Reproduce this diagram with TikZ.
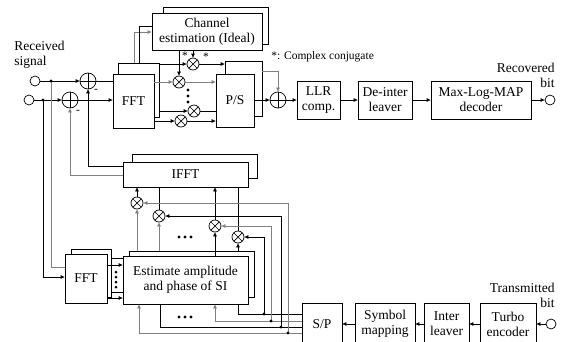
\documentclass[tikz,border=0pt]{standalone}
\usepackage{fontspec}
\setmainfont{Liberation Serif}
\usetikzlibrary{arrows.meta}

\begin{document}
\begin{tikzpicture}[x=1pt,y=-1pt,line width=0.7pt,>={Triangle[length=4pt,width=3.4pt]},
  every node/.style={font=\fontsize{13.5}{15}\selectfont,inner sep=0pt},
  blk/.style={draw,fill=white,align=center},
  adder/.style={circle,draw,fill=white,minimum size=16pt,path picture={\draw (path picture bounding box.north)--(path picture bounding box.south) (path picture bounding box.west)--(path picture bounding box.east);}},
  mixer/.style={circle,draw,fill=white,minimum size=12pt,path picture={\draw (path picture bounding box.north west)--(path picture bounding box.south east) (path picture bounding box.north east)--(path picture bounding box.south west);}},
  port/.style={circle,draw,fill=white,minimum size=10pt},
  small/.style={font=\fontsize{11.5}{13}\selectfont}]
\useasboundingbox (0,0) rectangle (570,341);
\clip (0,0) rectangle (570,341);

\node[blk,minimum width=105pt,minimum height=37pt] (chestb) at (215.5,25.5) {};
\node[blk,minimum width=110pt,minimum height=37pt] (chest) at (207,31.5) {Channel\\estimation (Ideal)};
\node[blk,minimum width=41pt,minimum height=54pt] (fftAb) at (138.5,90) {};
\node[blk,minimum width=41pt,minimum height=54pt] (fftA) at (133.5,101) {FFT};
\node[blk,minimum width=37pt,minimum height=55pt] (psb) at (243.5,89) {};
\node[blk,minimum width=38pt,minimum height=53pt] (ps) at (235,100.5) {P/S};
\node[blk,minimum width=43pt,minimum height=38pt] (llr) at (318.5,100) {LLR\\comp.};
\node[blk,minimum width=54pt,minimum height=38pt] (deint) at (385,100) {De-inter\\leaver};
\node[blk,minimum width=100pt,minimum height=38pt] (dec) at (481,100) {Max-Log-MAP\\decoder};
\node[blk,minimum width=125pt,minimum height=24pt] (ifftb) at (194.5,166) {};
\node[blk,minimum width=125pt,minimum height=25pt] (ifft) at (185.5,174.5) {IFFT};
\node[blk,minimum width=40pt,minimum height=48pt] (fftBb) at (91,273) {};
\node[blk,minimum width=42pt,minimum height=49pt] (fftB) at (86,278.5) {FFT};
\node[blk,minimum width=125pt,minimum height=46pt] (estb) at (191.5,274) {};
\node[blk,minimum width=125pt,minimum height=48pt] (est) at (185.5,280) {Estimate amplitude\\and phase of SI};
\node[blk,minimum width=40pt,minimum height=42pt] (sp) at (322,324) {S/P};
\node[blk,minimum width=60pt,minimum height=42pt] (sym) at (385,324) {Symbol\\mapping};
\node[blk,minimum width=45pt,minimum height=42pt] (inter) at (446.5,324) {Inter\\leaver};
\node[blk,minimum width=56pt,minimum height=42pt] (turbo) at (508,324) {Turbo\\encoder};

\node[port] (in1) at (35,81) {};
\node[port] (in2) at (29,100) {};
\node[port] (out) at (550,100) {};
\node[port] (tx) at (551,324) {};
\node[adder] (add1) at (88,81) {};
\node[adder] (add2) at (70,100) {};
\node[adder] (add3) at (278,100) {};
\node[mixer] (mA) at (193,64) {};
\node[mixer] (mB) at (179,82) {};
\node[mixer] (mC) at (194,111) {};
\node[mixer] (mD) at (181,121) {};
\node[mixer] (mE) at (137,203) {};
\node[mixer] (mF) at (159,216) {};
\node[mixer] (mG) at (215,226) {};
\node[mixer] (mH) at (238,237) {};

\node[align=left,anchor=west] (rxlab) at (14,55) {Received\\signal};
\node[align=right,anchor=east] (outlab) at (555,75) {Recovered\\bit};
\node[align=right,anchor=east] (txlab) at (555,295) {Transmitted\\bit};
\node[small,anchor=west] (cclab) at (271,57) {*: Complex conjugate};
\node[small] (st1) at (185,56) {*};
\node[small] (st2) at (206,57) {*};
\node[small] (neg1) at (96,91) {-};
\node[small] (neg2) at (78,112) {-};

\coordinate (jA) at (51,81);
\coordinate (jB) at (43,100);
\draw[->] (in1) -- (add1);
\draw[->] (in2) -- (add2);
\draw[gray] (jA) |- (fftB.west |- 0,267);
\draw[->] (jB) |- (fftB.west |- 0,277);
\fill (jA) circle (1.7);
\fill (jB) circle (1.7);
\draw (add1) -- (fftA.west |- add1);
\draw[->] (add2) -- (fftA.west |- add2);
\draw[->] (ifft.west |- 0,166) -| (add1);
\draw[->,gray] (ifft.west |- 0,175) -| (add2);

\draw[->,gray] (fftAb.north -| 134,0) |- (chest.west |- 0,32);
\draw (fftAb.north -| 139,0) |- (chest.west |- 0,26);
\draw[->] (chest.south -| mB) -- (mB);
\draw[->] (chest.south -| mA) -- (mA);
\draw[->] (fftAb.east |- mA) -- (mA);
\draw[->,gray] (fftA.east |- mB) -- (mB);
\draw[->] (fftAb.east |- mC) -- (mC);
\draw[->] (fftA.east |- mD) -- (mD);
\draw[->] (mA) -- (psb.west |- mA);
\draw[->,gray] (mB) -- (ps.west |- mB);
\draw (mC) -- (ps.west |- mC);
\draw[->] (mD) -- (ps.west |- mD);
\foreach \y in {90,96,102}
  \fill (188,\y) circle (1.6);

\draw[->,gray] (psb.east |- 0,71) -| (add3);
\draw[->] (ps.east |- add3) -- (add3);
\draw[->] (add3) -- (llr);
\draw[->] (llr) -- (deint);
\draw[->] (deint) -- (dec);
\draw[->] (dec) -- (out);

\draw (fftBb.east |- 0,258) -- (est.west |- 0,258);
\draw[->] (fftB.east |- 0,265) -- (est.west |- 0,265);
\draw (fftBb.east |- 0,292) -- (est.west |- 0,292);
\draw[->] (fftB.east |- 0,298) -- (est.west |- 0,298);
\foreach \y in {272,277,282,287}
  \fill (116,\y) circle (1.5);

\draw[->,gray] (estb.north -| mE) -- (mE);
\draw[->,gray] (estb.north -| mF) -- (mF);
\draw[->] (est.north -| mG) -- (mG);
\draw[->] (estb.north -| mH) -- (mH);
\draw[->] (mE) -- (ifft.south -| mE);
\draw (mF) -- (ifft.south -| mF);
\draw[->] (mG) -- (ifft.south -| mG);
\draw (mH) -- (ifft.south -| mH);
\foreach \x in {179,185,191} {
  \fill (\x,237) circle (1.6);
  \fill (\x,317) circle (1.6);
}

\coordinate (sA) at (264,314);
\coordinate (sB) at (271,321);
\coordinate (sC) at (281,327);
\coordinate (sD) at (288,333);
\draw (sp.west |- sA) -| (est.south -| 238,0);
\draw[->,gray] (sp.west |- sB) -| (est.south -| 215,0);
\draw (sp.west |- sC) -| (est.south -| 160,0);
\draw[->,gray] (sp.west |- sD) -| (est.south -| 139,0);
\draw[->] (sA) |- (mH);
\draw[->,gray] (sB) |- (mG);
\draw[->] (sC) |- (mF);
\draw[->,gray] (sD) |- (mE);
\foreach \c in {sA,sB,sC,sD}
  \fill (\c) circle (1.7);

\draw[->] (tx) -- (turbo);
\draw[->] (turbo) -- (inter);
\draw[->] (inter) -- (sym);
\draw[->] (sym) -- (sp);
\end{tikzpicture}
\end{document}
